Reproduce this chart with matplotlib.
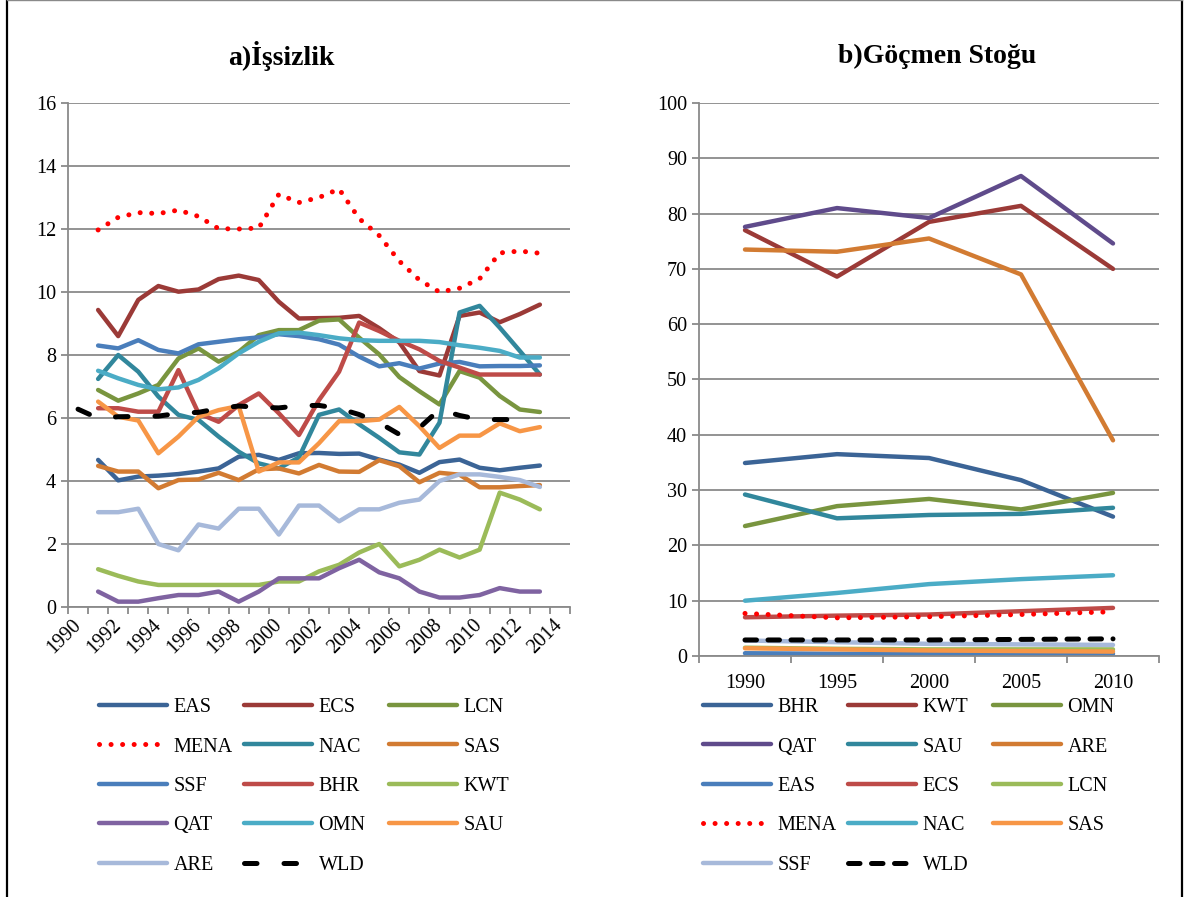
import numpy as np
import matplotlib
matplotlib.use("Agg")
import matplotlib.pyplot as plt
from matplotlib.lines import Line2D
from matplotlib.ticker import FixedLocator, NullFormatter

plt.rcParams["font.family"] = ["Liberation Serif", "DejaVu Serif"]

# ---- a) İşsizlik (1991-2013, WLD 1990-2012) ----
yil_a = np.arange(1991, 2014)
yil_wld = np.arange(1990, 2013)

EAS_a = [4.67, 4.02, 4.14, 4.17, 4.22, 4.30, 4.40, 4.77, 4.83, 4.67, 4.88, 4.89, 4.86,
         4.87, 4.68, 4.52, 4.26, 4.60, 4.68, 4.42, 4.34, 4.42, 4.49]
ECS_a = [9.43, 8.60, 9.75, 10.19, 10.01, 10.08, 10.41, 10.52, 10.38, 9.69, 9.16, 9.17, 9.18,
         9.24, 8.85, 8.40, 7.49, 7.35, 9.24, 9.35, 9.04, 9.30, 9.60]
LCN_a = [6.89, 6.55, 6.78, 7.05, 7.89, 8.21, 7.79, 8.10, 8.63, 8.79, 8.79, 9.09, 9.13,
         8.55, 8.02, 7.30, 6.85, 6.43, 7.49, 7.28, 6.70, 6.27, 6.19]
MENA_a = [11.97, 12.37, 12.52, 12.49, 12.60, 12.40, 12.01, 12.00, 12.03, 13.10, 12.84, 13.00, 13.27,
          12.33, 11.79, 10.98, 10.38, 10.00, 10.12, 10.42, 11.24, 11.30, 11.23]
NAC_a = [7.24, 8.00, 7.47, 6.68, 6.10, 5.94, 5.41, 4.93, 4.56, 4.40, 4.75, 6.10, 6.27,
         5.80, 5.37, 4.91, 4.84, 5.85, 9.35, 9.56, 8.87, 8.13, 7.38]
SAS_a = [4.48, 4.30, 4.30, 3.77, 4.03, 4.05, 4.26, 4.03, 4.37, 4.40, 4.24, 4.51, 4.30,
         4.29, 4.66, 4.47, 3.96, 4.26, 4.20, 3.80, 3.80, 3.84, 3.87]
SSF_a = [8.30, 8.21, 8.47, 8.16, 8.05, 8.34, 8.42, 8.50, 8.56, 8.66, 8.60, 8.50, 8.33,
         7.95, 7.64, 7.74, 7.57, 7.73, 7.78, 7.64, 7.65, 7.65, 7.67]
BHR_a = [6.31, 6.31, 6.20, 6.20, 7.52, 6.15, 5.88, 6.41, 6.78, 6.15, 5.46, 6.57, 7.47,
         9.03, 8.76, 8.45, 8.18, 7.81, 7.60, 7.38, 7.38, 7.38, 7.38]
KWT_a = [1.20, 0.99, 0.81, 0.70, 0.70, 0.70, 0.70, 0.70, 0.70, 0.81, 0.81, 1.13, 1.34,
         1.73, 2.00, 1.29, 1.50, 1.82, 1.57, 1.82, 3.63, 3.41, 3.10]
QAT_a = [0.49, 0.17, 0.17, 0.28, 0.38, 0.38, 0.49, 0.17, 0.49, 0.91, 0.91, 0.91, 1.23,
         1.50, 1.10, 0.91, 0.49, 0.30, 0.30, 0.38, 0.60, 0.49, 0.49]
OMN_a = [7.50, 7.26, 7.05, 6.91, 6.97, 7.21, 7.58, 8.05, 8.42, 8.69, 8.71, 8.63, 8.53,
         8.47, 8.45, 8.45, 8.45, 8.41, 8.31, 8.23, 8.13, 7.92, 7.92]
SAU_a = [6.52, 6.04, 5.92, 4.88, 5.41, 6.04, 6.25, 6.38, 4.30, 4.59, 4.59, 5.20, 5.90,
         5.90, 5.95, 6.35, 5.74, 5.05, 5.44, 5.44, 5.83, 5.58, 5.71]
ARE_a = [3.01, 3.01, 3.12, 2.00, 1.80, 2.62, 2.49, 3.12, 3.12, 2.30, 3.22, 3.22, 2.72,
         3.10, 3.10, 3.31, 3.41, 4.00, 4.21, 4.21, 4.13, 4.03, 3.81]
WLD_a = [6.28, 5.99, 6.04, 6.05, 6.06, 6.15, 6.18, 6.30, 6.38, 6.34, 6.32, 6.39, 6.40,
         6.30, 6.11, 5.85, 5.48, 5.69, 6.27, 6.08, 5.95, 5.95, 5.95]

# ---- b) Göçmen Stoğu (1990-2010, 5 yıllık) ----
yil_b = [1990, 1995, 2000, 2005, 2010]
BHR_b = [34.9, 36.5, 35.8, 31.8, 25.2]
KWT_b = [77.0, 68.6, 78.5, 81.4, 70.0]
OMN_b = [23.5, 27.1, 28.4, 26.5, 29.5]
QAT_b = [77.6, 81.0, 79.2, 86.8, 74.6]
SAU_b = [29.2, 24.9, 25.5, 25.7, 26.8]
ARE_b = [73.5, 73.1, 75.5, 69.0, 39.0]
EAS_b = [0.5, 0.4, 0.4, 0.4, 0.4]
ECS_b = [7.0, 7.3, 7.5, 8.1, 8.7]
LCN_b = [1.5, 1.3, 1.2, 1.2, 1.2]
MENA_b = [7.7, 6.9, 7.1, 7.5, 8.0]
NAC_b = [10.0, 11.4, 13.0, 13.9, 14.6]
SAS_b = [1.4, 1.2, 1.0, 0.9, 0.8]
SSF_b = [2.8, 2.5, 2.2, 2.1, 2.0]
WLD_b = [2.9, 2.9, 2.9, 3.0, 3.1]

# Excel renkleri
KOYU_MAVI = "#3B6496"
KOYU_KIRMIZI = "#9B3A37"
KOYU_YESIL = "#79953F"
KOYU_MOR = "#5F4B8B"
PETROL = "#31879C"
KOYU_TURUNCU = "#D27B32"
MAVI = "#4A7EBB"
KIRMIZI = "#BE4B48"
YESIL = "#9BBB59"
MOR = "#7F63A1"
TURKUAZ = "#4BACC6"
TURUNCU = "#F79646"
ACIK_MAVI = "#A7B9DA"
IZGARA = "#8A8A8A"

LW = 3.2
yazi = 14.5


def cizgi(ax, x, y, renk, etiket, stil="solid"):
    if stil == "nokta":
        ax.plot(x, y, color="#FF0000", lw=3.6, linestyle=(0, (0.01, 2.3)),
                dash_capstyle="round", label=etiket)
    elif stil == "uzun_kesik":
        ax.plot(x, y, color="black", lw=3.6, linestyle=(0, (2.5, 5.4)),
                dash_capstyle="round", label=etiket)
    elif stil == "kesik":
        ax.plot(x, y, color="black", lw=3.6, linestyle=(0, (2.3, 2.3)),
                dash_capstyle="round", label=etiket)
    else:
        ax.plot(x, y, color=renk, lw=LW, solid_capstyle="round",
                solid_joinstyle="round", label=etiket)


def eksen_bicimi(ax):
    ax.grid(True, axis="y", color=IZGARA, lw=1.3)
    ax.set_axisbelow(True)
    for s in ["top", "right"]:
        ax.spines[s].set_visible(False)
    for s in ["left", "bottom"]:
        ax.spines[s].set_color(IZGARA)
        ax.spines[s].set_linewidth(1.3)
    ax.tick_params(axis="both", which="major", direction="out", color=IZGARA,
                   length=5, width=1.3, labelsize=yazi)
    ax.tick_params(axis="x", which="minor", length=0, labelsize=yazi, pad=6)


def lejant(fig, ax, x0, adim):
    # Excel lejantı: satır satır 3 sütun, eşit sütun aralığı
    h, l = ax.get_legend_handles_labels()
    for c in range(3):
        fig.legend(h[c::3], l[c::3], ncol=1, frameon=False,
                   loc="upper left",
                   bbox_to_anchor=((x0 + c * adim) / 1184, 1 - 698 / 897),
                   fontsize=yazi, handlelength=3.4, handletextpad=0.3,
                   labelspacing=1.01, borderpad=0, borderaxespad=0)


fig = plt.figure(figsize=(11.84, 8.97), dpi=100)

# ---------- a) ----------
ax1 = fig.add_axes([68 / 1184, 1 - 607 / 897, 502 / 1184, 504 / 897])
xa = yil_a - 1990 + 0.5
xw = yil_wld - 1990 + 0.5
cizgi(ax1, xa, EAS_a, KOYU_MAVI, "EAS")
cizgi(ax1, xa, ECS_a, KOYU_KIRMIZI, "ECS")
cizgi(ax1, xa, LCN_a, KOYU_YESIL, "LCN")
cizgi(ax1, xa, MENA_a, None, "MENA", "nokta")
cizgi(ax1, xa, NAC_a, PETROL, "NAC")
cizgi(ax1, xa, SAS_a, KOYU_TURUNCU, "SAS")
cizgi(ax1, xa, SSF_a, MAVI, "SSF")
cizgi(ax1, xa, BHR_a, KIRMIZI, "BHR")
cizgi(ax1, xa, KWT_a, YESIL, "KWT")
cizgi(ax1, xa, QAT_a, MOR, "QAT")
cizgi(ax1, xa, OMN_a, TURKUAZ, "OMN")
cizgi(ax1, xa, SAU_a, TURUNCU, "SAU")
cizgi(ax1, xa, ARE_a, ACIK_MAVI, "ARE")
cizgi(ax1, xw, WLD_a, None, "WLD", "uzun_kesik")
ax1.set_xlim(0, 25)
ax1.set_ylim(0, 16)
ax1.set_yticks(np.arange(0, 17, 2))
ax1.xaxis.set_major_locator(FixedLocator(np.arange(0, 26)))
ax1.xaxis.set_major_formatter(NullFormatter())
etiket_yil = np.arange(1990, 2015, 2)
ax1.xaxis.set_minor_locator(FixedLocator(etiket_yil - 1990 + 0.5))
ax1.set_xticklabels([str(y) for y in etiket_yil], minor=True, rotation=45,
                    ha="right", va="center", rotation_mode="anchor")
eksen_bicimi(ax1)
ax1.tick_params(axis="x", which="minor", pad=11)
fig.text(281 / 1184, 1 - 56 / 897, "a)İşsizlik", ha="center", va="center",
         fontsize=20, fontweight="bold")
lejant(fig, ax1, 99, 145)

# ---------- b) ----------
ax2 = fig.add_axes([699 / 1184, 1 - 656 / 897, 460 / 1184, 553 / 897])
xb = np.arange(len(yil_b)) + 0.5
cizgi(ax2, xb, BHR_b, KOYU_MAVI, "BHR")
cizgi(ax2, xb, KWT_b, KOYU_KIRMIZI, "KWT")
cizgi(ax2, xb, OMN_b, KOYU_YESIL, "OMN")
cizgi(ax2, xb, QAT_b, KOYU_MOR, "QAT")
cizgi(ax2, xb, SAU_b, PETROL, "SAU")
cizgi(ax2, xb, ARE_b, KOYU_TURUNCU, "ARE")
cizgi(ax2, xb, EAS_b, MAVI, "EAS")
cizgi(ax2, xb, ECS_b, KIRMIZI, "ECS")
cizgi(ax2, xb, LCN_b, YESIL, "LCN")
cizgi(ax2, xb, MENA_b, None, "MENA", "nokta")
cizgi(ax2, xb, NAC_b, TURKUAZ, "NAC")
cizgi(ax2, xb, SAS_b, TURUNCU, "SAS")
cizgi(ax2, xb, SSF_b, ACIK_MAVI, "SSF")
cizgi(ax2, xb, WLD_b, None, "WLD", "kesik")
ax2.set_xlim(0, len(yil_b))
ax2.set_ylim(0, 100)
ax2.set_yticks(np.arange(0, 101, 10))
ax2.xaxis.set_major_locator(FixedLocator(np.arange(0, len(yil_b) + 1)))
ax2.xaxis.set_major_formatter(NullFormatter())
ax2.xaxis.set_minor_locator(FixedLocator(xb))
ax2.set_xticklabels([str(y) for y in yil_b], minor=True)
eksen_bicimi(ax2)
ax2.tick_params(axis="x", which="minor", pad=13)
fig.text(937 / 1184, 1 - 56 / 897, "b)Göçmen Stoğu", ha="center", va="center",
         fontsize=20, fontweight="bold")
lejant(fig, ax2, 703, 145)

# çerçeve
fig.add_artist(Line2D([6.5 / 1184, 6.5 / 1184], [0, 1], color="black", lw=1.6))
fig.add_artist(Line2D([1181.5 / 1184, 1181.5 / 1184], [0, 1], color="black", lw=1.6))
fig.add_artist(Line2D([6.5 / 1184, 1181.5 / 1184], [1 - 0.5 / 897, 1 - 0.5 / 897],
                      color=IZGARA, lw=1.0))

fig.savefig("out.png", dpi=100)
